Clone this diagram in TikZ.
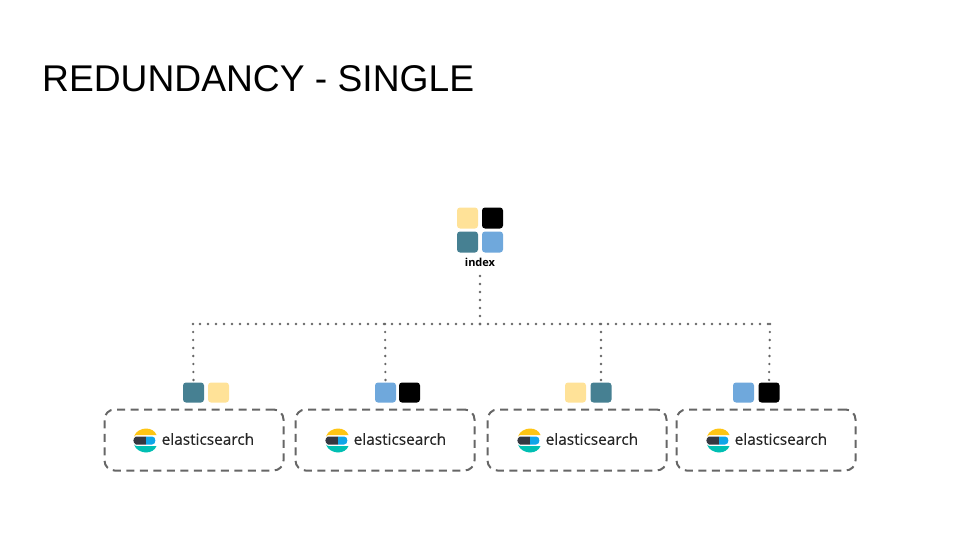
\documentclass[tikz,border=0pt]{standalone}
\usepackage{fontspec}
\setmainfont{Liberation Sans}
\newfontfamily\esfont[FakeBold=0.5]{Open Sans}
\newfontfamily\idxfont{Open Sans}
\definecolor{cyellow}{HTML}{FFE298}
\definecolor{cteal}{HTML}{468092}
\definecolor{cblue}{HTML}{6FA8DC}
\definecolor{cdot}{HTML}{666666}
\definecolor{lgyellow}{HTML}{FEC514}
\definecolor{lgdark}{HTML}{343741}
\definecolor{lgblue}{HTML}{0FA5E8}
\definecolor{lgteal}{HTML}{00BFB3}
\tikzset{
  x=1pt,y=-1pt,
  tile/.style={minimum width=21pt,minimum height=21pt,inner sep=0pt,rounded corners=3pt,fill=#1},
  smalltile/.style={tile=#1,minimum height=20pt},
  esbox/.style={draw=cdot,line width=2pt,dash pattern=on 8pt off 5.5pt,rounded corners=10pt,minimum width=179pt,minimum height=61pt,inner sep=0pt},
  estext/.style={font=\esfont\fontsize{15.4}{17}\selectfont,text=black!85,inner sep=0pt,anchor=west},
  dots/.style={draw=cdot,line width=2.6pt,line cap=round,dash pattern=on 0pt off 8pt},
  logo/.pic={
    \fill[lgyellow] (-11,-4) .. controls (-9.5,-9.5) and (-3,-12) .. (1,-12) .. controls (6,-12) and (10,-9.5) .. (11.5,-5.5) -- (-8,-5.5) .. controls (-9,-5.5) and (-10.5,-5) .. (-11,-4) -- cycle;
    \fill[lgteal] (-11,4) .. controls (-9.5,9.5) and (-3,12) .. (1,12) .. controls (6,12) and (10,9.5) .. (11.5,5.5) -- (-8,5.5) .. controls (-9,5.5) and (-10.5,5) .. (-11,4) -- cycle;
    \fill[lgdark] (-9,-4) -- (1,-4) -- (1,4) -- (-9,4) .. controls (-12.5,2) and (-12.5,-2) .. (-9,-4) -- cycle;
    \fill[lgblue] (1,-4) -- (7,-4) .. controls (11.5,-4) and (11.5,4) .. (7,4) -- (1,4) -- cycle;
  },
}
\begin{document}
\begin{tikzpicture}
\useasboundingbox (0,0) rectangle (960,540);
\node[anchor=base west,inner sep=0pt,font=\fontsize{37.2}{40}\selectfont] (title) at (42,91.5) {REDUNDANCY - SINGLE};

\node[inner sep=0pt,font=\idxfont\bfseries\fontsize{11}{13}\selectfont] (idx) at (480,262) {index};
\coordinate (hub) at (480,324);
\coordinate (j1) at (193,324);
\coordinate (j2) at (385,324);
\coordinate (j3) at (601,324);
\coordinate (j4) at (770,324);
\coordinate (idxb) at (480,276);

% tiles on the four nodes that receive a connector
\node[smalltile=cteal] (a1) at (193.5,392.5) {};
\node[smalltile=cblue] (b1) at (385.5,392.5) {};
\node[smalltile=cteal] (c2) at (601,392.5) {};
\node[smalltile=black] (d2) at (769,392.5) {};

% connectors
\draw[dots] (idxb) -- (hub);
\draw[dots] (hub) -- (j1);
\draw[dots] (hub) -- (j4);
\draw[dots] (j1) -- (a1.north);
\draw[dots] (j2) -- (b1.north);
\draw[dots] (j3) -- (c2.north);
\draw[dots] (j4) -- (d2.north);

% index tiles
\node[tile=cyellow] (i1) at (467.5,218) {};
\node[tile=black] (i2) at (492.5,218) {};
\node[tile=cteal] (i3) at (467.5,242) {};
\node[tile=cblue] (i4) at (492.5,242) {};

% remaining node tiles
\node[smalltile=cyellow] (a2) at (218.5,392.5) {};
\node[smalltile=black] (b2) at (409.5,392.5) {};
\node[smalltile=cyellow] (c1) at (575.5,392.5) {};
\node[smalltile=cblue] (d1) at (743.5,392.5) {};

% elasticsearch boxes
\node[esbox] (n1) at (194,440) {};
\node[esbox] (n2) at (385,440) {};
\node[esbox] (n3) at (577,440) {};
\node[esbox] (n4) at (766,440) {};
\pic at (145,440.5) {logo};
\pic at (337,440.5) {logo};
\pic at (529,440.5) {logo};
\pic at (718,440.5) {logo};
\node[estext] (t1) at (161.5,439) {elasticsearch};
\node[estext] (t2) at (353.5,439) {elasticsearch};
\node[estext] (t3) at (545.5,439) {elasticsearch};
\node[estext] (t4) at (734.5,439) {elasticsearch};
\end{tikzpicture}
\end{document}
